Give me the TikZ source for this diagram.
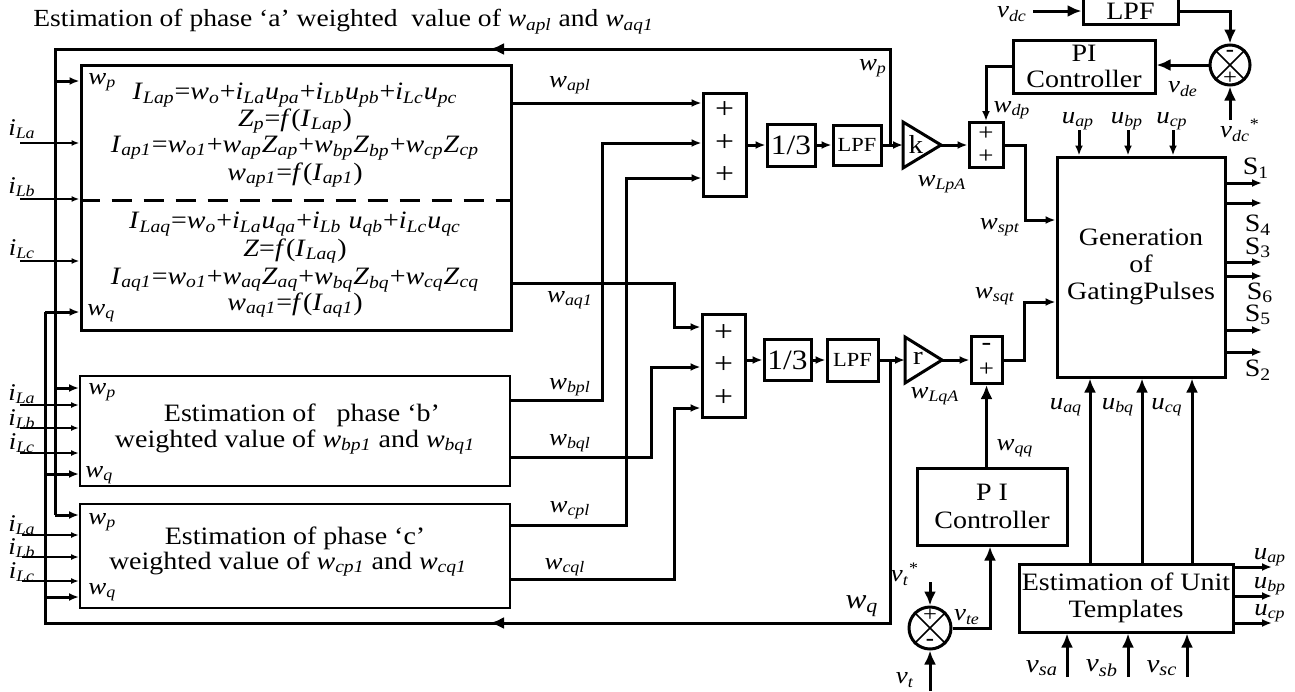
\documentclass[tikz,border=0pt]{standalone}
\usepackage{fontspec}
\setmainfont{Liberation Serif}[FakeStretch=1.12]
\usetikzlibrary{arrows.meta,calc}
\newcommand\sv[2]{\textit{#1}\textsubscript{\textit{#2}}}
\newcommand\fs[1]{\fontsize{#1}{#1}\selectfont}
\begin{document}
\begin{tikzpicture}[x=0.5pt,y=-0.5pt,
 ln/.style={line width=1.5pt},
 tl/.style={line width=0.8pt},
 arr/.style={line width=1.5pt,-{Latex[length=5pt,width=4pt]}},
 barr/.style={line width=1.5pt,-{Latex[length=7pt,width=6pt]}},
 sarr/.style={line width=0.8pt,-{Latex[length=4pt,width=3pt]}},
 blk/.style={draw,line width=1.5pt,inner sep=0pt,align=center,font=\fs{12}},
 tb/.style={inner sep=0pt,font=\fs{12}},
 eq/.style={inner sep=0pt,font=\fs{12.5}},
 sg/.style={inner sep=0pt,font=\fs{15}},
]
\useasboundingbox (0,0) rectangle (1295,691);

% ---------- title
\node[tb,anchor=west,font=\fs{12.3}] (title) at (33,22) {Estimation of phase ‘a’ weighted\ \ value of \sv{w}{apl} and \sv{w}{aq1}};

% ---------- box A
\node[blk,minimum width=215pt,minimum height=132.5pt] (A) at (296,197.5) {};
\draw[ln,dash pattern=on 10pt off 6pt] (A.west |- 0,200) -- (A.east |- 0,200);
\node[eq] (ea1) at (295,95) {\sv{I}{Lap}=\sv{w}{o}+\sv{i}{La}\sv{u}{pa}+\sv{i}{Lb}\sv{u}{pb}+\sv{i}{Lc}\sv{u}{pc}};
\node[eq] (ea2) at (295,121) {\sv{Z}{p}=\textit{f}(\sv{I}{Lap})};
\node[eq] (ea3) at (295,148) {\sv{I}{ap1}=\sv{w}{o1}+\sv{w}{ap}\sv{Z}{ap}+\sv{w}{bp}\sv{Z}{bp}+\sv{w}{cp}\sv{Z}{cp}};
\node[eq] (ea4) at (295,175) {\sv{w}{ap1}=\textit{f}(\sv{I}{ap1})};
\node[eq] (ea5) at (295,224) {\sv{I}{Laq}=\sv{w}{o}+\sv{i}{La}\sv{u}{qa}+\sv{i}{Lb} \sv{u}{qb}+\sv{i}{Lc}\sv{u}{qc}};
\node[eq] (ea6) at (295,251) {\textit{Z}=\textit{f}(\sv{I}{Laq})};
\node[eq] (ea7) at (295,280) {\sv{I}{aq1}=\sv{w}{o1}+\sv{w}{aq}\sv{Z}{aq}+\sv{w}{bq}\sv{Z}{bq}+\sv{w}{cq}\sv{Z}{cq}};
\node[eq] (ea8) at (295,305) {\sv{w}{aq1}=\textit{f}(\sv{I}{aq1})};
\node[tb,anchor=west] (awp) at (88,82) {\sv{w}{p}};
\node[tb,anchor=west] (awq) at (87,313) {\sv{w}{q}};

% ---------- box B
\node[blk,line width=1pt,minimum width=215pt,minimum height=55pt] (B) at (295,431) {};
\node[tb,font=\fs{12.5}] (bt1) at (302,415) {Estimation of\ \ \ phase ‘b’};
\node[tb,font=\fs{12.5}] (bt2) at (295,442) {weighted value of \sv{w}{bp1} and \sv{w}{bq1}};
\node[tb,anchor=west] (bwp) at (88,392) {\sv{w}{p}};
\node[tb,anchor=west] (bwq) at (85,475) {\sv{w}{q}};

% ---------- box C
\node[blk,line width=1pt,minimum width=215pt,minimum height=52pt] (C) at (295,556) {};
\node[tb,font=\fs{12.5}] (ct1) at (295,538) {Estimation of phase ‘c’};
\node[tb,font=\fs{12.5}] (ct2) at (288,564) {weighted value of \sv{w}{cp1} and \sv{w}{cq1}};
\node[tb,anchor=west] (cwp) at (88,522) {\sv{w}{p}};
\node[tb,anchor=west] (cwq) at (88,592) {\sv{w}{q}};

% ---------- current inputs
\node[tb] (ia1) at (22,129) {\sv{i}{La}};
\node[tb] (ia2) at (22,187) {\sv{i}{Lb}};
\node[tb] (ia3) at (22,249) {\sv{i}{Lc}};
\node[tb] (ib1) at (22,394) {\sv{i}{La}};
\node[tb] (ib2) at (22,419) {\sv{i}{Lb}};
\node[tb] (ib3) at (22,443) {\sv{i}{Lc}};
\node[tb] (ic1) at (22,525) {\sv{i}{La}};
\node[tb] (ic2) at (22,548) {\sv{i}{Lb}};
\node[tb] (ic3) at (22,572) {\sv{i}{Lc}};
\foreach \y in {143,199,261} {\draw[sarr] (20,\y) -- (A.west |- 0,\y);}
\foreach \y in {405,428,453} {\draw[sarr] (20,\y) -- (B.west |- 0,\y);}
\foreach \y in {535,557,581} {\draw[sarr] (22,\y) -- (C.west |- 0,\y);}

% ---------- sums and chain (p)
\node[blk,minimum width=21.5pt,minimum height=51.5pt] (S1) at (724.5,145) {};
\node[sg] (s1a) at (724.5,110) {+};
\node[sg] (s1b) at (724.5,143) {+};
\node[sg] (s1c) at (724.5,175) {+};
\node[blk,minimum width=24pt,minimum height=21pt,font=\fs{14}] (D1) at (791,145) {1/3};
\node[blk,minimum width=24pt,minimum height=20pt,font=\fs{10}] (L1) at (857,145) {LPF};
\coordinate (kin) at (903,145);
\coordinate (kout) at (941,145);
\draw[ln] (903,122) -- (kout) -- (903,168) -- cycle;
\node[tb,font=\fs{13}] (k) at (916,144) {k};
\node[blk,minimum width=17pt,minimum height=22.5pt] (S3) at (986,145) {};
\node[sg,font=\fs{12}] (s3a) at (986,134) {+};
\node[sg,font=\fs{12}] (s3b) at (986,157) {+};

% ---------- sums and chain (q)
\node[blk,minimum width=21.5pt,minimum height=51.5pt] (S2) at (723.5,365.5) {};
\node[sg] (s2a) at (723.5,333) {+};
\node[sg] (s2b) at (723.5,365) {+};
\node[sg] (s2c) at (723.5,398) {+};
\node[blk,minimum width=23.5pt,minimum height=20.5pt,font=\fs{14}] (D2) at (787.5,360) {1/3};
\node[blk,minimum width=25.5pt,minimum height=21pt,font=\fs{10}] (L2) at (852.5,360) {LPF};
\coordinate (rin) at (905,360);
\coordinate (rout) at (942,360);
\draw[ln] (905,337) -- (rout) -- (905,383) -- cycle;
\node[tb,font=\fs{13}] (r) at (918,358) {r};
\node[blk,minimum width=15.5pt,minimum height=23.5pt] (S4) at (986.5,360) {};
\node[sg,font=\fs{13}] (s4a) at (986.5,347) {-};
\node[sg,font=\fs{12}] (s4b) at (986.5,370) {+};

% ---------- box outputs to sums
\draw[arr] (A.east |- 0,103) -- (S1.west |- 0,103);
\draw[arr] (B.east |- 0,400) -- (602,400) -- (602,143) -- (S1.west |- 0,143);
\draw[arr] (C.east |- 0,525) -- (626,525) -- (626,178) -- (S1.west |- 0,178);
\draw[arr] (A.east |- 0,283) -- (674,283) -- (674,327) -- (S2.west |- 0,327);
\draw[arr] (B.east |- 0,457) -- (651,457) -- (651,367) -- (S2.west |- 0,367);
\draw[arr] (C.east |- 0,579) -- (674,579) -- (674,408) -- (S2.west |- 0,408);
\node[tb] (lwapl) at (570,85) {\sv{w}{apl}};
\node[tb] (lwaq1) at (570,300) {\sv{w}{aq1}};
\node[tb] (lwbpl) at (570,387) {\sv{w}{bpl}};
\node[tb] (lwbql) at (570,443) {\sv{w}{bql}};
\node[tb] (lwcpl) at (570,510) {\sv{w}{cpl}};
\node[tb] (lwcql) at (565,567) {\sv{w}{cql}};

% ---------- chain arrows
\draw[arr] (S1.east) -- (D1.west);
\draw[arr] (D1.east) -- (L1.west);
\draw[arr] (L1.east) -- (kin);
\draw[arr] (kout) -- (S3.west);
\draw[arr] (S2.east |- D2.west) -- (D2.west);
\draw[arr] (D2.east) -- (L2.west);
\draw[arr] (L2.east) -- (rin);
\draw[arr] (rout) -- (S4.west);
\node[tb] (lwlpa) at (942,184) {\sv{w}{LpA}};
\node[tb] (lwlqa) at (935,396) {\sv{w}{LqA}};

% ---------- feedback loops
\coordinate (tap1) at (890,145);
\coordinate (fbT) at (890,49);
\coordinate (fbTL) at (55,49);
\coordinate (fbTa) at (490,49);
\coordinate (pC) at (55,515);
\draw[ln] (tap1) -- (fbT) -- (fbTL) -- (pC);
\draw[barr] (fbT) -- (fbTa);
\draw[arr] (55,81) -- (A.west |- 0,81);
\draw[arr] (55,388) -- (B.west |- 0,388);
\draw[arr] (pC) -- (C.west |- pC);
\node[tb] (lwp) at (873,68) {\sv{w}{p}};

\coordinate (tap2) at (890,360);
\coordinate (fbB) at (890,623);
\coordinate (fbBL) at (45,623);
\coordinate (fbBa) at (490,623);
\coordinate (qA) at (45,312);
\draw[ln] (tap2) -- (fbB) -- (fbBL) -- (qA);
\draw[barr] (fbB) -- (fbBa);
\draw[arr] (qA) -- (A.west |- qA);
\draw[arr] (45,474) -- (B.west |- 0,474);
\draw[arr] (45,597) -- (C.west |- 0,597);
\node[tb,font=\fs{14}] (lwq) at (862,606) {\sv{w}{q}};

% ---------- dc-link loop
\node[blk,minimum width=47.5pt,minimum height=13pt,font=\fs{12.5}] (LT) at (1130.5,11) {LPF};
\node[draw,circle,ln,minimum size=20pt,inner sep=0pt] (C1) at (1230,65) {};
\draw[tl] (C1.north east) -- (C1.south west) (C1.north west) -- (C1.south east);
\node[sg,font=\fs{11}] (c1m) at (1230,53) {\textbf{-}};
\node[sg,font=\fs{11}] (c1p) at (1230,78) {+};
\node[blk,minimum width=71pt,minimum height=26.5pt,font=\fontsize{12.5}{13}\selectfont] (PI1) at (1084,66.5) {PI\\Controller};
\coordinate (vdc) at (1033,11);
\coordinate (vdcs) at (1230,120);
\draw[barr] (vdc) -- (LT.west);
\draw[barr] (LT.east) -- (C1 |- LT.east) -- (C1.north);
\draw[barr] (vdcs) -- (C1.south);
\draw[barr] (C1.west) -- (PI1.east |- C1.west);
\draw[arr] (PI1.west) -- (S3.north |- PI1.west) -- (S3.north);
\node[tb] (lvdc) at (1012,14) {\sv{v}{dc}};
\node[tb] (lvde) at (1183,89) {\sv{v}{de}};
\node[tb] (lvdcs) at (1240,130) {\sv{v}{dc}\textsuperscript{*}};
\node[tb] (lwdp) at (1012,110) {\sv{w}{dp}};

% ---------- gating generator
\node[blk,minimum width=84pt,minimum height=110pt,font=\fontsize{12.5}{13.5}\selectfont] (G) at (1141,267) {Generation\\of\\GatingPulses};
\draw[arr] (S3.east) -- (1025,145) -- (1025,220) -- (G.west |- 0,220);
\draw[arr] (S4.east) -- (1024,360) -- (1024,302) -- (G.west |- 0,302);
\node[tb] (lwspt) at (1000,227) {\sv{w}{spt}};
\node[tb] (lwsqt) at (995,296) {\sv{w}{sqt}};
\foreach \x/\n in {1079/a,1128/b,1173/c} {\draw[arr] (\x,130) -- (\x,0 |- G.north);}
\node[tb] (luap) at (1078,121) {\sv{u}{ap}};
\node[tb] (lubp) at (1127,121) {\sv{u}{bp}};
\node[tb] (lucp) at (1172,121) {\sv{u}{cp}};
\foreach \y in {183,203,262,276,330,352} {\draw[arr] (G.east |- 0,\y) -- (1262,\y);}
\node[tb,font=\fs{12.5}] (ls1) at (1256,168) {S\textsubscript{1}};
\node[tb,font=\fs{12.5}] (ls4) at (1258,225) {S\textsubscript{4}};
\node[tb,font=\fs{12.5}] (ls3) at (1258,248) {S\textsubscript{3}};
\node[tb,font=\fs{12.5}] (ls6) at (1260,293) {S\textsubscript{6}};
\node[tb,font=\fs{12.5}] (ls5) at (1258,315) {S\textsubscript{5}};
\node[tb,font=\fs{12.5}] (ls2) at (1258,370) {S\textsubscript{2}};

% ---------- terminal voltage loop
\node[blk,minimum width=75pt,minimum height=38.5pt,font=\fontsize{12.5}{14}\selectfont] (PI2) at (992,506.5) {P I\\Controller};
\node[draw,circle,ln,minimum size=21pt,inner sep=0pt] (C2) at (930,628) {};
\draw[tl] (C2.north east) -- (C2.south west) (C2.north west) -- (C2.south east);
\node[sg,font=\fs{11}] (c2p) at (930,615) {+};
\node[sg,font=\fs{11}] (c2m) at (930,642) {\textbf{-}};
\coordinate (vts) at (930,582);
\coordinate (vt) at (930,691);
\draw[barr] (vts) -- (C2.north);
\draw[barr] (vt) -- (C2.south);
\draw[barr] (C2.east) -- (990,628) -- (990,0 |- PI2.south);
\draw[barr] (S4.south |- PI2.north) -- (S4.south);
\node[tb] (lvts) at (905,574) {\sv{v}{t}\textsuperscript{*}};
\node[tb] (lvt) at (905,680) {\sv{v}{t}};
\node[tb] (lvte) at (967,617) {\sv{v}{te}};
\node[tb] (lwqq) at (1015,448) {\sv{w}{qq}};

% ---------- unit templates
\node[blk,minimum width=107pt,minimum height=34pt,font=\fontsize{12.5}{13.5}\selectfont] (E) at (1126,598) {Estimation of Unit\\Templates};
\foreach \x in {1090,1142,1192} {\draw[barr] (\x,0 |- E.north) -- (\x,0 |- G.south);}
\node[tb] (luaq) at (1066,407) {\sv{u}{aq}};
\node[tb] (lubq) at (1118,407) {\sv{u}{bq}};
\node[tb] (lucq) at (1167,407) {\sv{u}{cq}};
\foreach \y in {567,596,623} {\draw[arr] (E.east |- 0,\y) -- (1272,\y);}
\node[tb] (luap2) at (1270,557) {\sv{u}{ap}};
\node[tb] (lubp2) at (1270,586) {\sv{u}{bp}};
\node[tb] (lucp2) at (1270,613) {\sv{u}{cp}};
\foreach \x in {1067,1128,1187} {\draw[barr] (\x,677) -- (\x,0 |- E.south);}
\node[tb,font=\fs{13}] (lvsa) at (1042,668) {\sv{v}{sa}};
\node[tb,font=\fs{13}] (lvsb) at (1102,668) {\sv{v}{sb}};
\node[tb,font=\fs{13}] (lvsc) at (1162,668) {\sv{v}{sc}};
\end{tikzpicture}
\end{document}
